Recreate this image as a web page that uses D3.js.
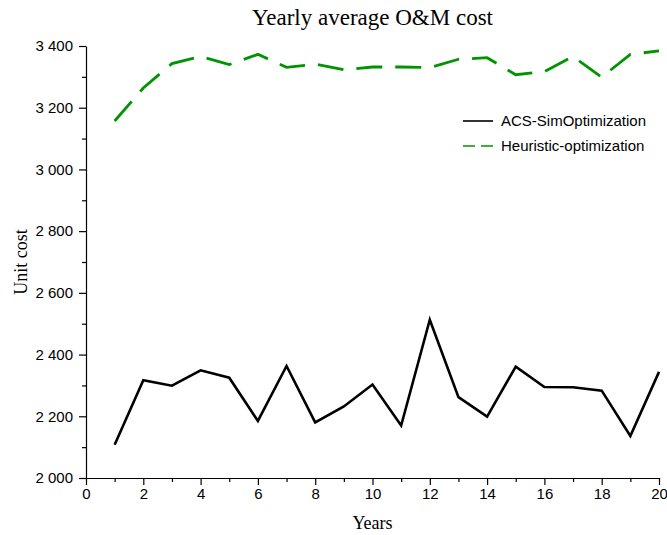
<!DOCTYPE html>
<html>
<head>
<meta charset="utf-8">
<script src="https://cdn.jsdelivr.net/npm/d3@7/dist/d3.min.js"></script>
<style>
  html, body { margin: 0; padding: 0; background: #fff; }
  svg { display: block; }
  .tick text { font-family: "Liberation Sans", Arial, sans-serif; font-size: 15px; fill: #000; }
  .serif { font-family: "Liberation Serif", "Times New Roman", serif; fill: #000; }
</style>
</head>
<body>
<svg id="chart" width="667" height="535"></svg>
<script>
// Yearly average O&M cost per simulation year
const years = [1, 2, 3, 4, 5, 6, 7, 8, 9, 10, 11, 12, 13, 14, 15, 16, 17, 18, 19, 20];
const acsSimOptimization = [2108, 2317, 2299, 2349, 2325, 2185, 2363, 2180, 2232, 2303,
                            2170, 2513, 2262, 2199, 2361, 2295, 2294, 2283, 2136, 2344];
const heuristicOptimization = [3157, 3264, 3343, 3366, 3340, 3373, 3331, 3341, 3323, 3332,
                               3332, 3330, 3357, 3362, 3307, 3317, 3366, 3299, 3373, 3384];
const seriesNames = ["ACS-SimOptimization", "Heuristic-optimization"];
const xTicks = [0, 2, 4, 6, 8, 10, 12, 14, 16, 18, 20];
const yTicks = [2000, 2200, 2400, 2600, 2800, 3000, 3200, 3400];

const svg = d3.select("#chart");
const margin = { left: 86, right: 8, top: 46, bottom: 57 };
const W = 667, H = 535;

const x = d3.scaleLinear().domain([0, 20]).range([margin.left, W - margin.right]);
const y = d3.scaleLinear().domain([2000, 3400]).range([H - margin.bottom, margin.top]);

// thousands separated by a space, e.g. "3 400"
const fmtThousands = d => d3.format(",")(d).replace(/,/g, " ");

// minor ticks
svg.append("g")
  .attr("transform", `translate(0,${y(2000)})`)
  .call(d3.axisBottom(x).tickValues(d3.range(1, 20, 2)).tickSize(4).tickFormat(""))
  .call(g => g.select(".domain").remove());
svg.append("g")
  .attr("transform", `translate(${x(0)},0)`)
  .call(d3.axisLeft(y).tickValues(d3.range(2100, 3400, 200)).tickSize(4).tickFormat(""))
  .call(g => g.select(".domain").remove());

// major axes
svg.append("g")
  .attr("transform", `translate(0,${y(2000)})`)
  .call(d3.axisBottom(x).tickValues(xTicks).tickSize(7).tickSizeOuter(0).tickPadding(3).tickFormat(d3.format("d")));
svg.append("g")
  .attr("transform", `translate(${x(0)},0)`)
  .call(d3.axisLeft(y).tickValues(yTicks).tickSize(7).tickSizeOuter(0).tickPadding(6).tickFormat(fmtThousands));
svg.selectAll(".domain, .tick line").attr("stroke", "#000").attr("stroke-width", 1.2);

// lines
const line = d3.line().x((d, i) => x(years[i])).y(d => y(d));
svg.append("path")
  .datum(heuristicOptimization)
  .attr("d", line)
  .attr("fill", "none")
  .attr("stroke", "#009400")
  .attr("stroke-width", 2.8)
  .attr("stroke-dasharray", "26,13");
svg.append("path")
  .datum(acsSimOptimization)
  .attr("d", line)
  .attr("fill", "none")
  .attr("stroke", "#000")
  .attr("stroke-width", 2.6)
  .attr("stroke-linejoin", "miter");

// legend
const legend = svg.append("g").attr("transform", "translate(463,121)");
const legendStyles = [
  { stroke: "#000", dash: null },
  { stroke: "#009400", dash: "12,6" }
];
seriesNames.forEach((name, i) => {
  const row = legend.append("g").attr("transform", `translate(0,${i * 25})`);
  row.append("line")
    .attr("x1", 0).attr("x2", 30).attr("y1", 0).attr("y2", 0)
    .attr("stroke", legendStyles[i].stroke)
    .attr("stroke-width", 1.6)
    .attr("stroke-dasharray", legendStyles[i].dash);
  row.append("text")
    .attr("x", 38).attr("y", 5)
    .style("font-family", "'Liberation Sans', Arial, sans-serif")
    .style("font-size", "15px")
    .text(name);
});

// title and axis titles
svg.append("text").attr("class", "serif")
  .attr("x", (x(0) + x(20)) / 2).attr("y", 25)
  .attr("text-anchor", "middle")
  .style("font-size", "23px")
  .text("Yearly average O&M cost");
svg.append("text").attr("class", "serif")
  .attr("x", (x(0) + x(20)) / 2).attr("y", 529)
  .attr("text-anchor", "middle")
  .style("font-size", "18px")
  .text("Years");
svg.append("text").attr("class", "serif")
  .attr("transform", `translate(27,${(y(2000) + y(3400)) / 2}) rotate(-90)`)
  .attr("text-anchor", "middle")
  .style("font-size", "18px")
  .text("Unit cost");
</script>
</body>
</html>
